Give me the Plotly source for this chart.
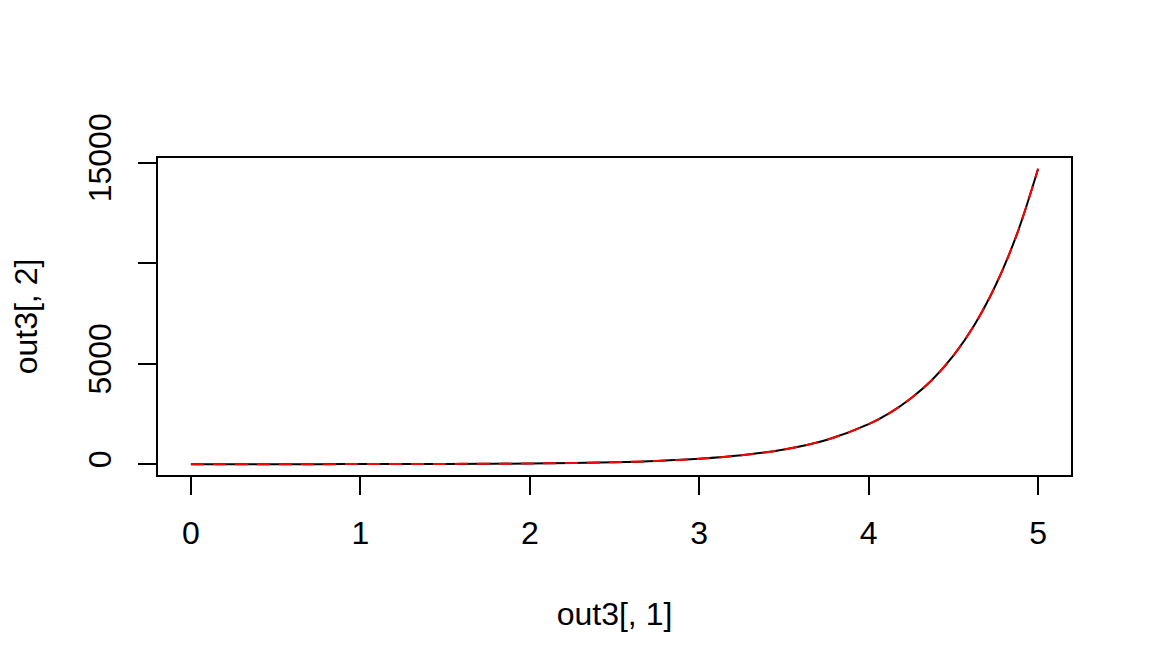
import plotly.graph_objects as go

# values
x_vals = [0, 0.25, 0.5, 0.75, 1.0, 1.25, 1.5, 1.75, 2.0, 2.25, 2.5, 2.75, 3.0,
          3.25, 3.5, 3.75, 4.0, 4.125, 4.25, 4.375, 4.5, 4.625, 4.75, 4.875, 5.0]
y_black = [0.7, 1.1, 1.8, 3.0, 4.9, 8.1, 13.4, 22, 36, 60, 99, 163, 269,
           443, 731, 1206, 1990, 2550, 3280, 4200, 5400, 6940, 8910, 11440, 14690]
y_red = list(y_black)

x_ticks = [0, 1, 2, 3, 4, 5]
y_ticks = [0, 5000, 10000, 15000]
y_tick_text = ["0", "5000", "", "15000"]

FONT = "Liberation Sans, Arial, sans-serif"
FS = 32

xmin, xmax = min(x_vals), max(x_vals)
ymin, ymax = min(y_black), max(y_black)
px_ = 0.04 * (xmax - xmin)
py_ = 0.04 * (ymax - ymin)

fig = go.Figure()
fig.add_trace(go.Scatter(x=x_vals, y=y_black, mode="lines", line_shape="spline",
                         line=dict(color="black", width=2), showlegend=False))
fig.add_trace(go.Scatter(x=x_vals, y=y_red, mode="lines", line_shape="spline",
                         line=dict(color="#FF0000", width=2, dash="13px,9px"), showlegend=False))

fig.update_layout(
    width=1136, height=656,
    margin=dict(l=149, r=72, t=149, b=188),
    paper_bgcolor="white", plot_bgcolor="white",
    font=dict(family=FONT, size=FS, color="black"),
    xaxis=dict(range=[xmin - px_, xmax + px_], tickvals=x_ticks,
               ticks="outside", ticklen=18, tickwidth=2, tickcolor="black",
               showgrid=False, zeroline=False, showline=False,
               ticklabelstandoff=11,
               title=dict(text="out3[, 1]", standoff=52, font=dict(size=FS))),
    yaxis=dict(range=[ymin - py_, ymax + py_], tickvals=y_ticks, ticktext=y_tick_text,
               tickangle=-90,
               ticks="outside", ticklen=18, tickwidth=2, tickcolor="black",
               showgrid=False, zeroline=False, showline=False,
               ticklabelstandoff=14,
               title=dict(text="out3[, 2]", standoff=38, font=dict(size=FS))),
    shapes=[dict(type="rect", xref="paper", yref="paper", x0=0, x1=1, y0=0, y1=1,
                 line=dict(color="black", width=2))],
)

fig.write_html("out.html")
